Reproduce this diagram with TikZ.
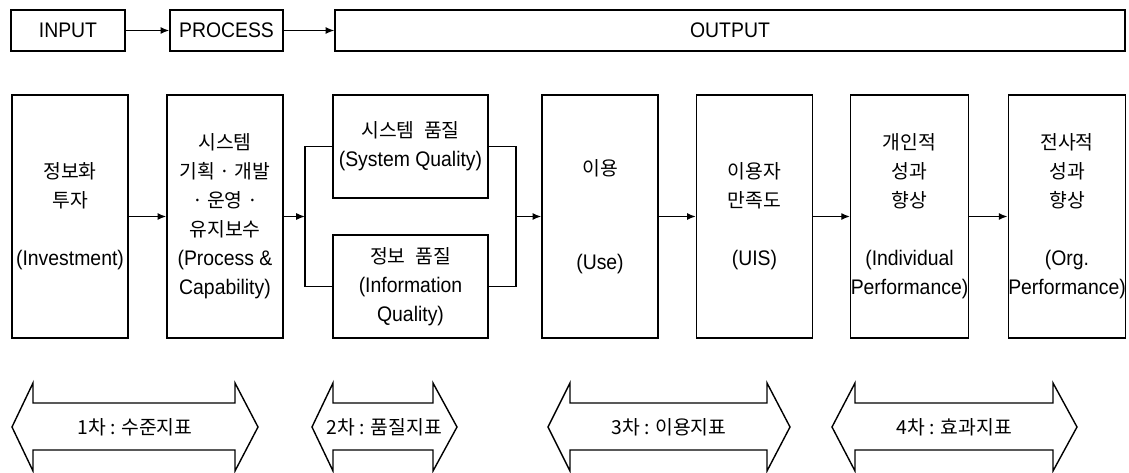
\documentclass[tikz,border=0pt]{standalone}
\usepackage{fontspec}
\setmainfont{Liberation Sans}[FakeStretch=0.92]
\newfontfamily\kr{Noto Sans CJK KR}
\newcommand\ko[1]{{\kr\fontsize{11}{16.5}\selectfont #1}}
\usetikzlibrary{arrows.meta}

\begin{document}
\begin{tikzpicture}[x=0.02cm, y=-0.02cm, line width=0.8pt,
    box/.style={draw, inner sep=0pt, align=center, minimum width=2.32cm,
        minimum height=4.86cm, font=\fontsize{12}{16.5}\selectfont},
    topbox/.style={draw, inner sep=0pt, minimum height=0.82cm,
        font=\fontsize{12}{14}\selectfont},
    qbox/.style={box, minimum width=3.1cm, minimum height=2.06cm},
    arr/.style={-{Latex[length=5pt,width=4pt]}}]

    \useasboundingbox (0,0) rectangle (1129,473);

    % top row
    \node[topbox, minimum width=2.28cm] (in) at (68,30.5) {INPUT};
    \node[topbox, minimum width=2.26cm] (pr) at (226.5,30.5) {PROCESS};
    \node[topbox, minimum width=15.8cm] (out) at (730,30.5) {OUTPUT};

    % boxes
    \node[box] (inv) at (70,216.5) {\ko{정보화}\\\ko{투자}\\[16.5pt](Investment)};
    \node[box] (cap) at (225,216.5) {\ko{시스템}\\\ko{기획 · 개발}\\\ko{· 운영 ·}\\\ko{유지보수}\\(Process \&\\Capability)};
    \node[qbox] (sysq) at (410.5,146.5) {\ko{시스템\enspace 품질}\\(System Quality)};
    \node[qbox] (infoq) at (410.5,286.5) {\ko{정보\enspace 품질}\\(Information\\Quality)};
    \node[box] (use) at (600,216.5) {\ko{이용}\\[37pt](Use)};
    \node[box] (uis) at (754.5,216.5) {\ko{이용자}\\\ko{만족도}\\[16.5pt](UIS)};
    \node[box] (ind) at (909.5,216.5) {\ko{개인적}\\\ko{성과}\\\ko{향상}\\[16.5pt](Individual\\Performance)};
    \node[box] (org) at (1067,216.5) {\ko{전사적}\\\ko{성과}\\\ko{향상}\\[16.5pt](Org.\\Performance)};

    \coordinate (jl) at (305,216.5);
    \coordinate (jr) at (516,216.5);

    % edges
    \draw[arr] (in) -- (pr);
    \draw[arr] (pr) -- (out);
    \draw[arr] (inv) -- (cap);
    \draw[arr] (cap) -- (jl);
    \draw (sysq.west) -| (jl) |- (infoq.west);
    \draw (sysq.east) -| (jr) |- (infoq.east);
    \draw[arr] (jr) -- (use);
    \draw[arr] (use) -- (uis);
    \draw[arr] (uis) -- (ind);
    \draw[arr] (ind) -- (org);

    % measures
    \foreach \a/\b/\c/\d/\t [count=\i] in {12/33/235/258/1차 : 수준지표,
            312/333/433/457/2차 : 품질지표,
            548/570/767/790/3차 : 이용지표,
            832/855/1053/1077/4차 : 효과지표} {
        \draw (\a,427) -- (\b,383) -- (\b,403) -- (\c,403) -- (\c,383) -- (\d,427)
            -- (\c,471) -- (\c,450) -- (\b,450) -- (\b,471) -- cycle;
        \node (lvl\i) at ({(\a+\d)/2},427) {\ko{\t}};
    }

\end{tikzpicture}
\end{document}
